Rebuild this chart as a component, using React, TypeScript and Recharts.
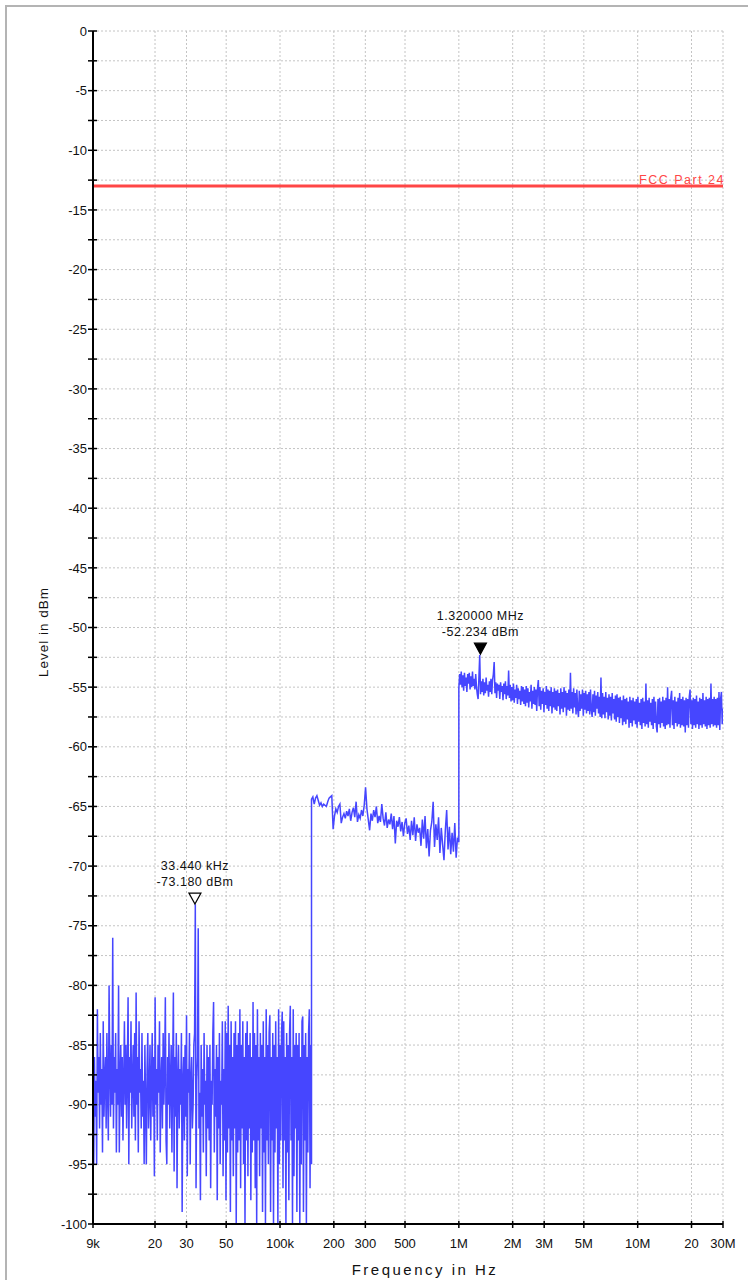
import {
  LineChart,
  Line,
  XAxis,
  YAxis,
  CartesianGrid,
  ReferenceLine,
  ReferenceDot,
} from 'recharts';

// sweep bands (start Hz, stop Hz) – points are log-stepped across each band
const BAND_A = { start: 9000, stop: 150000 };
const BAND_B = { start: 150000, stop: 1000000 };
const BAND_C = { start: 1000000, stop: 30000000 };

// 9 kHz .. 150 kHz, level in dBm
const LEVELS_A = [
  -80, -95, -86, -91, -88, -95, -82, -89, -86, -92, -84, -90, -87, -94, -83, -91, -88, -86, -92, -84,
  -89, -93, -80, -87, -91, -85, -90, -76, -92, -86, -89, -84, -94, -87, -90, -80, -94, -88, -85, -91,
  -86, -93, -88, -83, -90, -85, -92, -87, -81, -95, -86, -89, -83, -92, -88, -85, -91, -84, -93, -80.6,
  -90, -86, -94, -83, -89, -87, -92, -84, -91, -88, -95, -85, -90, -95, -87, -84, -92, -89, -85, -93,
  -88, -84, -91, -86, -96, -81, -90, -87, -93, -85, -89, -83, -94, -88, -86, -92, -84, -90, -87, -81,
  -93, -95, -86, -90, -84, -92, -88, -85, -94, -87, -80.6, -95.6, -86, -91, -84, -97, -88, -85, -92, -87,
  -90, -84, -99, -88, -86, -93, -85, -91, -82.5, -96, -87, -89, -84, -95, -88, -86, -92, -90, -85, -84,
  -73.2, -97, -88, -86, -75.2, -92, -89, -98, -85, -91, -87, -94, -84, -90, -88, -96, -85, -92, -86, -93,
  -85, -97, -88, -90, -84, -81.4, -94, -87, -91, -85, -98, -86, -92, -84, -95, -88, -90, -83, -96, -87,
  -93, -83, -98, -84, -94, -81.7, -92, -85, -99, -83, -93, -86, -96, -84, -92, -83, -100, -85, -94, -84,
  -93, -82, -97, -85, -92, -83, -95, -86, -100, -84, -93, -83, -96, -85, -92, -84, -98, -86, -94, -81.4,
  -93, -84, -97, -85, -100, -82, -93, -86, -96, -84, -92, -85, -99, -83, -94, -86, -100, -82, -93, -85,
  -95, -84, -82.5, -99, -86, -93, -84, -100, -85, -94, -83, -92, -86, -100, -82, -95, -85, -93, -84, -82.2,
  -97, -83, -93, -86, -100, -84, -94, -85, -98, -84, -81.7, -93, -86, -100, -82, -96, -85, -92, -84, -99,
  -85, -93, -84, -100, -86, -95, -83, -82.6, -99, -85, -93, -84, -100, -86, -94, -84, -82, -97, -85, -95,
];

// 150 kHz .. 1 MHz
const LEVELS_B = [
  -64.4, -64.2, -64.8, -64.3, -64.1, -64.5, -64.9, -64.7, -65.0, -64.8,
  -64.9, -65.0, -64.6, -64.3, -64.2, -64.1, -66.9, -65.8, -65.2, -65.5,
  -65.0, -64.8, -66.4, -65.9, -65.6, -66.0, -65.4, -65.8, -65.2, -66.2,
  -65.5, -65.1, -65.9, -64.6, -66.3, -65.7, -66.0, -65.3, -65.8, -64.9,
  -63.4, -65.2, -66.1, -67.0, -65.6, -66.2, -65.3, -65.9, -65.0, -66.4,
  -65.8, -66.3, -64.8, -66.0, -66.6, -65.5, -66.8, -66.1, -66.5, -65.6,
  -66.9, -65.8, -68.1, -66.2, -66.7, -65.9, -67.1, -66.3, -67.5, -66.4,
  -66.0, -67.3, -66.6, -67.8, -66.2, -67.4, -65.9, -67.9, -66.5, -67.2,
  -66.8, -68.3, -66.1, -67.7, -65.8, -68.5, -66.9, -69.2, -67.0, -66.3,
  -64.6, -68.4, -66.5, -67.8, -65.9, -68.9, -66.8, -68.2, -69.5, -67.0,
  -65.3, -68.6, -66.7, -69.0, -67.2, -68.8, -66.4, -69.3, -67.6, -68.0,
];

// 1 MHz .. 30 MHz
const LEVELS_C = [
  -55.1, -53.9, -54.8, -53.7, -55.0, -54.0, -55.3, -53.8, -54.9, -54.2, -55.4, -53.9, -54.7, -53.8, -55.2, -54.1, -55.0, -53.7, -54.9, -54.3,
  -55.2, -53.9, -55.0, -55.6, -56.0, -54.2, -52.3, -55.6, -54.5, -55.4, -54.3, -55.7, -54.6, -55.5, -54.2, -55.3, -54.8, -55.8, -54.5, -55.4,
  -54.3, -55.6, -54.4, -53.9, -52.9, -55.5, -54.6, -55.9, -54.7, -55.3, -54.8, -56.0, -54.6, -55.4, -54.9, -56.1, -54.7, -55.6, -54.5, -56.0,
  -54.9, -55.7, -53.6, -55.9, -54.8, -56.2, -55.0, -56.1, -54.7, -56.3, -55.2, -55.9, -54.8, -56.4, -55.1, -56.0, -55.3, -56.5, -54.9, -56.2,
  -55.0, -56.4, -55.2, -56.6, -54.9, -56.3, -55.1, -56.7, -55.4, -56.2, -54.8, -56.8, -55.3, -56.4, -55.0, -56.5, -55.2, -57.0, -55.1, -54.4,
  -56.6, -55.0, -56.9, -55.3, -56.4, -55.1, -57.1, -55.4, -56.5, -54.9, -56.8, -55.2, -57.0, -55.3, -56.6, -55.0, -57.2, -55.4, -56.7, -55.1,
  -56.9, -55.3, -57.0, -55.2, -56.6, -55.5, -57.3, -55.1, -56.8, -55.4, -57.1, -55.0, -56.7, -55.3, -57.4, -55.5, -56.9, -55.2, -57.0, -53.8,
  -56.8, -55.4, -57.2, -55.1, -56.7, -55.5, -57.3, -55.2, -56.9, -57.5, -55.3, -57.0, -55.6, -56.8, -55.2, -57.4, -55.5, -56.9, -55.3, -57.2,
  -55.6, -57.0, -55.4, -57.3, -55.2, -56.9, -57.5, -55.6, -57.1, -55.3, -57.4, -55.7, -56.8, -55.4, -57.2, -55.8, -57.5, -54.2, -57.6, -55.5,
  -57.3, -55.8, -57.6, -55.4, -57.1, -55.9, -57.7, -55.6, -57.4, -55.8, -57.8, -55.5, -57.2, -56.0, -57.7, -55.7, -57.9, -55.6, -57.5, -55.9,
  -58.0, -55.8, -57.6, -56.1, -58.2, -55.7, -57.9, -56.0, -58.1, -55.9, -57.7, -56.2, -58.4, -55.8, -58.0, -56.1, -58.3, -55.9, -57.8, -56.2,
  -58.1, -56.0, -58.4, -55.8, -57.9, -56.3, -58.2, -56.0, -58.5, -55.9, -58.0, -56.2, -58.3, -54.7, -58.1, -56.1, -58.4, -55.9, -57.9, -56.3,
  -58.2, -56.0, -58.5, -55.8, -58.0, -56.2, -58.3, -58.8, -56.0, -58.1, -55.9, -58.4, -56.2, -58.0, -55.8, -58.3, -56.1, -58.5, -55.9, -58.2,
  -55.0, -58.1, -56.0, -58.4, -55.9, -55.3, -58.2, -56.1, -58.5, -55.8, -58.0, -56.2, -58.3, -55.9, -58.1, -55.5, -58.4, -56.0, -58.2, -55.8,
  -58.3, -56.1, -58.8, -55.9, -58.2, -56.0, -58.4, -55.8, -55.2, -58.1, -56.1, -58.5, -55.9, -58.2, -56.0, -58.4, -55.7, -58.1, -56.2, -58.5,
  -55.9, -58.2, -56.0, -58.4, -55.5, -58.1, -56.1, -58.3, -55.8, -58.5, -56.0, -58.2, -55.9, -58.4, -54.7, -58.1, -56.0, -58.3, -55.8, -58.2,
  -56.0, -58.4, -55.9, -58.2, -55.4, -58.6, -56.0, -55.4, -58.1, -56.8,
];

const X_TICKS = [9000, 20000, 30000, 50000, 100000, 200000, 300000, 500000, 1e6, 2e6, 3e6, 5e6, 1e7, 2e7, 3e7];
const X_TICK_LABELS = ['9k', '20', '30', '50', '100k', '200', '300', '500', '1M', '2M', '3M', '5M', '10M', '20', '30M'];

const Y_TICKS = [
  -100, -97.5, -95, -92.5, -90, -87.5, -85, -82.5, -80, -77.5, -75, -72.5, -70, -67.5, -65, -62.5, -60,
  -57.5, -55, -52.5, -50, -47.5, -45, -42.5, -40, -37.5, -35, -32.5, -30, -27.5, -25, -22.5, -20,
  -17.5, -15, -12.5, -10, -7.5, -5, -2.5, 0,
];

const LIMIT_LEVEL = -13;
const LIMIT_NAME = 'FCC Part 24';

const MARKERS = [
  { freq: 33440, level: -73.18, line1: '33.440 kHz', line2: '-73.180 dBm', filled: false },
  { freq: 1320000, level: -52.234, line1: '1.320000 MHz', line2: '-52.234 dBm', filled: true },
];

const FONT = '"Liberation Sans", Arial, Helvetica, sans-serif';
const TRACE = '#4646ff';
const LIMIT = '#ff4646';

const sweep = (band: { start: number; stop: number }, levels: number[]) =>
  levels.map((v, i) => ({
    f: band.start * Math.pow(band.stop / band.start, i / (levels.length - 1)),
    v,
  }));

const data = [
  ...sweep(BAND_A, LEVELS_A),
  ...sweep(BAND_B, LEVELS_B),
  ...sweep(BAND_C, LEVELS_C),
];

const YTick = ({ x, y, payload }: any) => {
  const v = payload.value;
  const major = v % 5 === 0;
  return (
    <g>
      <line x1={x - 5} x2={x + 4} y1={y} y2={y} stroke="#000" strokeWidth={1.5} />
      {major && (
        <text x={x - 6} y={y} dy="0.36em" textAnchor="end" fontSize={13} fill="#111" fontFamily={FONT}>
          {v}
        </text>
      )}
    </g>
  );
};

const XTick = ({ x, y, payload }: any) => {
  const idx = X_TICKS.indexOf(payload.value);
  return (
    <g>
      <line x1={x} x2={x} y1={y - 3} y2={y + 4} stroke="#000" strokeWidth={1.5} />
      <text x={x} y={y + 24} textAnchor="middle" fontSize={13} fill="#111" fontFamily={FONT}>
        {X_TICK_LABELS[idx]}
      </text>
    </g>
  );
};

const makeMarker = (m: (typeof MARKERS)[number]) => (props: any) => {
  const { cx, cy } = props;
  if (cx == null || cy == null) return null;
  return (
    <g>
      <polygon
        points={`${cx - 6},${cy - 11} ${cx + 6},${cy - 11} ${cx},${cy}`}
        fill={m.filled ? '#000' : '#fff'}
        stroke="#000"
        strokeWidth={1.2}
      />
      <text x={cx} y={cy - 34} textAnchor="middle" fontSize={12.5} letterSpacing={0.5} fill="#111" fontFamily={FONT}>
        {m.line1}
      </text>
      <text x={cx} y={cy - 18} textAnchor="middle" fontSize={12.5} letterSpacing={0.5} fill="#111" fontFamily={FONT}>
        {m.line2}
      </text>
    </g>
  );
};

const limitLabel = (props: any) => {
  const vb = props.viewBox || {};
  return (
    <text
      x={vb.x + vb.width + 2}
      y={vb.y - 2}
      textAnchor="end"
      fontSize={12.5}
      letterSpacing={1.5}
      fill={LIMIT}
      fontFamily={FONT}
    >
      {LIMIT_NAME}
    </text>
  );
};

export default function App() {
  return (
    <div
      style={{
        position: 'absolute',
        left: 0,
        top: 0,
        width: 748,
        height: 1280,
        background: '#fff',
        fontFamily: FONT,
        overflow: 'hidden',
      }}
    >
      <div
        style={{
          position: 'absolute',
          left: 5,
          top: 5,
          width: 760,
          height: 1300,
          borderTop: '2px solid #b4b4b4',
          borderLeft: '2px solid #b4b4b4',
        }}
      />
      <div style={{ position: 'absolute', left: 0, top: 0 }}>
        <LineChart width={748} height={1280} data={data} margin={{ top: 31, right: 25, bottom: 0, left: 0 }}>
          <CartesianGrid stroke="#c4c4c4" strokeDasharray="2 2" />
          <XAxis
            dataKey="f"
            type="number"
            scale="log"
            domain={[9000, 30000000]}
            ticks={X_TICKS}
            allowDataOverflow
            height={56}
            tickSize={0}
            tickMargin={0}
            tickLine={false}
            axisLine={{ stroke: '#000', strokeWidth: 2 }}
            tick={<XTick />}
            interval={0}
          />
          <YAxis
            type="number"
            domain={[-100, 0]}
            ticks={Y_TICKS}
            allowDataOverflow
            width={93}
            tickSize={0}
            tickMargin={0}
            tickLine={false}
            axisLine={{ stroke: '#000', strokeWidth: 2 }}
            tick={<YTick />}
            interval={0}
          />
          <ReferenceLine y={LIMIT_LEVEL} stroke={LIMIT} strokeWidth={3} label={limitLabel} />
          <Line
            dataKey="v"
            type="linear"
            stroke={TRACE}
            strokeWidth={1.5}
            dot={false}
            isAnimationActive={false}
          />
          {MARKERS.map((m) => (
            <ReferenceDot key={m.line1} x={m.freq} y={m.level} r={6} shape={makeMarker(m)} />
          ))}
        </LineChart>
      </div>
      <div
        style={{
          position: 'absolute',
          left: 43,
          top: 632,
          transform: 'translate(-50%, -50%) rotate(-90deg)',
          whiteSpace: 'nowrap',
          fontSize: 13.5,
          letterSpacing: 1,
          color: '#111',
        }}
      >
        Level in dBm
      </div>
      <div
        style={{
          position: 'absolute',
          left: 425,
          top: 1269,
          transform: 'translate(-50%, -50%)',
          whiteSpace: 'nowrap',
          fontSize: 15,
          letterSpacing: 2.5,
          color: '#111',
        }}
      >
        Frequency in Hz
      </div>
    </div>
  );
}
